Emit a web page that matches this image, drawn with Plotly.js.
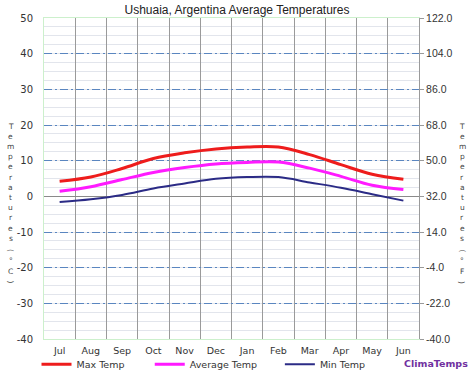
<!DOCTYPE html>
<html>
<head>
<meta charset="utf-8">
<script src="https://cdn.plot.ly/plotly-3.0.1.min.js"></script>
<style>
html,body{margin:0;padding:0;background:#fff;}
#chart{width:474px;height:375px;}
</style>
</head>
<body>
<div id="chart"></div>
<script>
var months = ["Jul","Aug","Sep","Oct","Nov","Dec","Jan","Feb","Mar","Apr","May","Jun"];
var maxTemp = [4.2, 5.4, 7.8, 10.6, 12.2, 13.3, 13.8, 13.8, 11.7, 8.9, 6.2, 4.8];
var avgTemp = [1.4, 2.7, 4.7, 6.7, 8.1, 9.1, 9.5, 9.6, 7.9, 5.6, 3.1, 1.9];
var minTemp = [-1.6, -0.8, 0.4, 2.2, 3.6, 4.9, 5.4, 5.4, 3.9, 2.4, 0.6, -1.2];
var cTicks = [-40, -30, -20, -10, 0, 10, 20, 30, 40, 50];
var cTickText = ["-40", "-30", "-20", "-10", "0", "10", "20", "30", "40", "50"];
var fTicks = ["-40.0", "-22.0", "-4.0", "14.0", "32.0", "50.0", "68.0", "86.0", "104.0", "122.0"];
var titleText = "Ushuaia, Argentina Average Temperatures";
var leftTitle = ["T","e","m","p","e","r","a","t","u","r","e","s","(","\u00B0","C",")"];
var rightTitle = ["T","e","m","p","e","r","a","t","u","r","e","s","(","\u00B0","F",")"];

var traces = [
  {x: months, y: maxTemp, name: "Max Temp", type: "scatter", mode: "lines",
   line: {color: "#ee1c1c", width: 3, shape: "spline", smoothing: 1}, legend: "legend"},
  {x: months, y: avgTemp, name: "Average Temp", type: "scatter", mode: "lines",
   line: {color: "#ff1aff", width: 3, shape: "spline", smoothing: 1}, legend: "legend2"},
  {x: months, y: minTemp, name: "Min Temp", type: "scatter", mode: "lines",
   line: {color: "#2b2b86", width: 2, shape: "spline", smoothing: 1}, legend: "legend3"},
  {x: months, y: maxTemp.map(function(v){return v*1.8+32;}), yaxis: "y2", type: "scatter",
   mode: "none", showlegend: false, hoverinfo: "skip"}
];

var legFont = {family: "DejaVu Sans, Verdana, sans-serif", size: 9.5, color: "#333"};
function leg(x){
  return {x: x, y: -0.079, xanchor: "left", yanchor: "middle", orientation: "h",
          font: legFont, bgcolor: "rgba(0,0,0,0)", borderwidth: 0, itemwidth: 30,
          tracegroupgap: 0};
}

// plot area in pixels: top 18, height 321, left 44, width 375
var plotTop = 18, plotH = 321, plotL = 44, plotW = 375;
function py(pix){ return (plotTop + plotH - pix) / plotH; }
function px(pix){ return (pix - plotL) / plotW; }
var charY = [126,136.2,146.4,156.6,166.8,177,187.2,197.4,207.6,217.8,228,238.2,250.5,260.5,271,282];

var ann = [];
function addColumn(chars, xpix){
  chars.forEach(function(ch, i){
    var isParen = (ch === "(" || ch === ")");
    ann.push({text: ch, xref: "paper", yref: "paper", x: px(xpix), y: py(charY[i]),
      xanchor: "center", yanchor: "middle", showarrow: false, borderpad: 0,
      textangle: isParen ? 90 : 0,
      font: {family: "DejaVu Sans, Verdana, sans-serif", size: 7.5, color: "#444"}});
  });
}
addColumn(leftTitle, 10.5);
addColumn(rightTitle, 462);
ann.push({text: "<b>ClimaTemps</b>", xref: "paper", yref: "paper", x: px(402), y: py(364),
   xanchor: "left", yanchor: "middle", showarrow: false,
   font: {family: "DejaVu Sans, Verdana, sans-serif", size: 9.5, color: "#7030a0"}});

var layout = {
  width: 474, height: 375,
  margin: {l: 44, r: 55, t: 18, b: 36, autoexpand: false},
  paper_bgcolor: "#fff", plot_bgcolor: "#fff",
  title: {text: titleText, x: 0.5, xref: "container", y: 0.973, yref: "container",
          xanchor: "center", yanchor: "middle",
          font: {family: "Liberation Sans, Arial, sans-serif", size: 12, color: "#222"}},
  xaxis: {type: "category", tickson: "boundaries", showgrid: true, gridcolor: "#9a9a9a",
          gridwidth: 1, ticks: "", showline: true, linecolor: "#ccf0cc", mirror: true,
          range: [-0.5, 11.5], fixedrange: true, ticklabelstandoff: 3,
          tickfont: {family: "DejaVu Sans, Verdana, sans-serif", size: 9.5, color: "#333"}},
  yaxis: {range: [-40, 50], tickvals: cTicks, ticktext: cTickText, showgrid: true, gridcolor: "#5a86c0",
          griddash: "8px,3px,2px,3px", gridwidth: 1,
          zeroline: true, zerolinecolor: "#8a8a8a", zerolinewidth: 1,
          minor: {dtick: 2.5, showgrid: true, gridcolor: "#e2e5ec", gridwidth: 1, griddash: "solid"},
          showline: true, linecolor: "#ccf0cc", ticks: "", ticklabelstandoff: 8,
          tickfont: {family: "DejaVu Sans, Verdana, sans-serif", size: 10, color: "#333"}},
  yaxis2: {overlaying: "y", side: "right", range: [-40, 122],
           tickvals: cTicks.map(function(c){return c*1.8+32;}), ticktext: fTicks,
           showgrid: false, zeroline: false, showline: true, linecolor: "#9a9a9a",
           ticks: "outside", ticklen: 4, tickcolor: "#9a9a9a",
           tickfont: {family: "Liberation Sans, Arial, sans-serif", size: 10.5, color: "#333"}},
  legend: leg(-0.02),
  legend2: leg(0.282),
  legend3: leg(0.629),
  annotations: ann,
  showlegend: true
};

Plotly.newPlot("chart", traces, layout, {displayModeBar: false, staticPlot: true});
</script>
</body>
</html>
